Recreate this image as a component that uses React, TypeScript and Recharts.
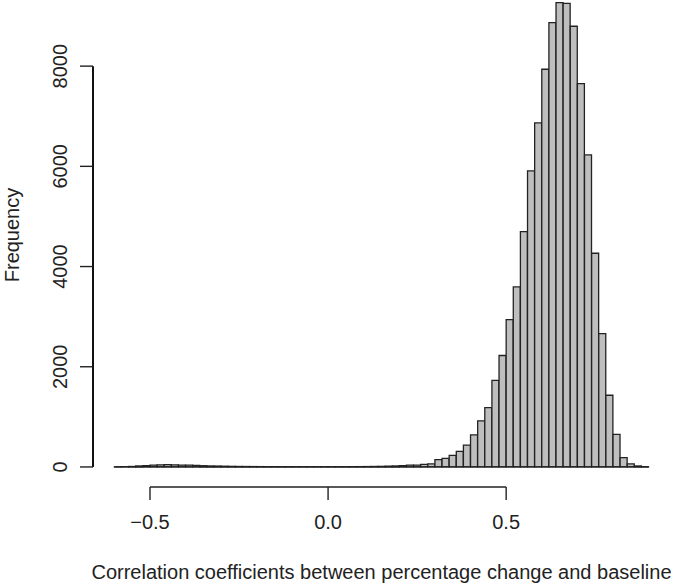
import { BarChart, Bar, XAxis, YAxis, ReferenceLine } from "recharts";

// histogram bins (width 0.02), given by their midpoints
const binMids = [
  -0.59, -0.57, -0.55, -0.53, -0.51, -0.49, -0.47, -0.45, -0.43, -0.41,
  -0.39, -0.37, -0.35, -0.33, -0.31, -0.29, -0.27, -0.25, -0.23, -0.21,
  -0.19, -0.17, -0.15, -0.13, -0.11, -0.09, -0.07, -0.05, -0.03, -0.01,
  0.01, 0.03, 0.05, 0.07, 0.09, 0.11, 0.13, 0.15, 0.17, 0.19,
  0.21, 0.23, 0.25, 0.27, 0.29, 0.31, 0.33, 0.35, 0.37, 0.39,
  0.41, 0.43, 0.45, 0.47, 0.49, 0.51, 0.53, 0.55, 0.57, 0.59,
  0.61, 0.63, 0.65, 0.67, 0.69, 0.71, 0.73, 0.75, 0.77, 0.79,
  0.81, 0.83, 0.85, 0.87, 0.89,
];

const counts = [
  3, 5, 10, 20, 28, 35, 42, 45, 42, 38,
  35, 30, 25, 20, 18, 15, 12, 10, 9, 8,
  7, 6, 6, 5, 5, 5, 4, 4, 4, 4,
  4, 5, 5, 6, 7, 8, 10, 12, 16, 20,
  28, 38, 36, 52, 60, 145, 170, 230, 310, 435,
  640, 920, 1185, 1730, 2225, 2940, 3593, 4697, 5908, 6866,
  7938, 8870, 9268, 9254, 8796, 7651, 6228, 4265, 2661, 1431,
  652, 186, 60, 20, 5,
];

const xTicks = [-0.5, 0, 0.5];
const yTicks = [0, 2000, 4000, 6000, 8000];
const xTitle = "Correlation coefficients between percentage change and baseline";
const yTitle = "Frequency";

const data = binMids.map((mid, i) => ({ mid, count: counts[i] }));

const FONT = "'Liberation Sans', Arial, sans-serif";
const INK = "#222";

const fmtX = (v: number) => (v === 0 ? "0.0" : v.toFixed(1).replace("-", "\u2212"));

function XTick(props: any) {
  const { x, y, payload } = props;
  return (
    <text x={x} y={y + 20} textAnchor="middle" dominantBaseline="central" fontFamily={FONT} fontSize={20} fill={INK}>
      {fmtX(payload.value)}
    </text>
  );
}

function YTick(props: any) {
  const { x, y, payload } = props;
  const cx = x - 18;
  return (
    <text
      x={cx}
      y={y}
      transform={`rotate(-90, ${cx}, ${y})`}
      textAnchor="middle"
      dominantBaseline="central"
      fontFamily={FONT}
      fontSize={20}
      fill={INK}
    >
      {payload.value}
    </text>
  );
}

function XTitle(props: any) {
  const vb = props.viewBox || { x: 93, y: 487, width: 577, height: 98 };
  const cx = vb.x + vb.width / 2;
  const cy = vb.y + 85;
  return (
    <text x={cx} y={cy} textAnchor="middle" dominantBaseline="central" fontFamily={FONT} fontSize={20} fill={INK}>
      {xTitle}
    </text>
  );
}

function YTitle(props: any) {
  const vb = props.viewBox || { x: 0, y: 1, width: 93, height: 486 };
  const cx = vb.x + 12;
  const cy = vb.y + vb.height / 2 - 9;
  return (
    <text
      x={cx}
      y={cy}
      transform={`rotate(-90, ${cx}, ${cy})`}
      textAnchor="middle"
      dominantBaseline="central"
      fontFamily={FONT}
      fontSize={20}
      fill={INK}
    >
      {yTitle}
    </text>
  );
}

export default function App() {
  return (
    <div style={{ position: "absolute", left: 0, top: 0, width: 675, height: 585, background: "#fff" }}>
      <BarChart
        width={675}
        height={585}
        data={data}
        margin={{ top: 1, right: 5, bottom: 0, left: 0 }}
        barCategoryGap={0}
        barGap={0}
      >
        <XAxis
          dataKey="mid"
          type="number"
          domain={[-0.66, 0.96]}
          ticks={xTicks}
          interval={0}
          height={98}
          axisLine={false}
          tickSize={13}
          tickLine={{ stroke: INK, strokeWidth: 1.4 }}
          tick={<XTick />}
          label={(p: any) => <XTitle {...p} />}
        />
        <YAxis
          type="number"
          domain={[-400, 9300]}
          ticks={yTicks}
          interval={0}
          width={93}
          axisLine={false}
          tickSize={13}
          tickLine={{ stroke: INK, strokeWidth: 1.4 }}
          tick={<YTick />}
          label={(p: any) => <YTitle {...p} />}
        />
        {/* R-style axis lines: only between the outer ticks */}
        <ReferenceLine
          segment={[{ x: -0.66, y: 0 }, { x: -0.66, y: 8000 }]}
          stroke="#111"
          strokeWidth={2}
          ifOverflow="visible"
        />
        <ReferenceLine
          segment={[{ x: -0.5, y: -400 }, { x: 0.5, y: -400 }]}
          stroke={INK}
          strokeWidth={1.4}
          ifOverflow="visible"
        />
        <Bar dataKey="count" fill="#bebebe" stroke={INK} strokeWidth={1.3} isAnimationActive={false} />
        <ReferenceLine
          segment={[{ x: -0.6, y: 0 }, { x: 0.9, y: 0 }]}
          stroke={INK}
          strokeWidth={1.3}
          ifOverflow="visible"
        />
      </BarChart>
    </div>
  );
}
